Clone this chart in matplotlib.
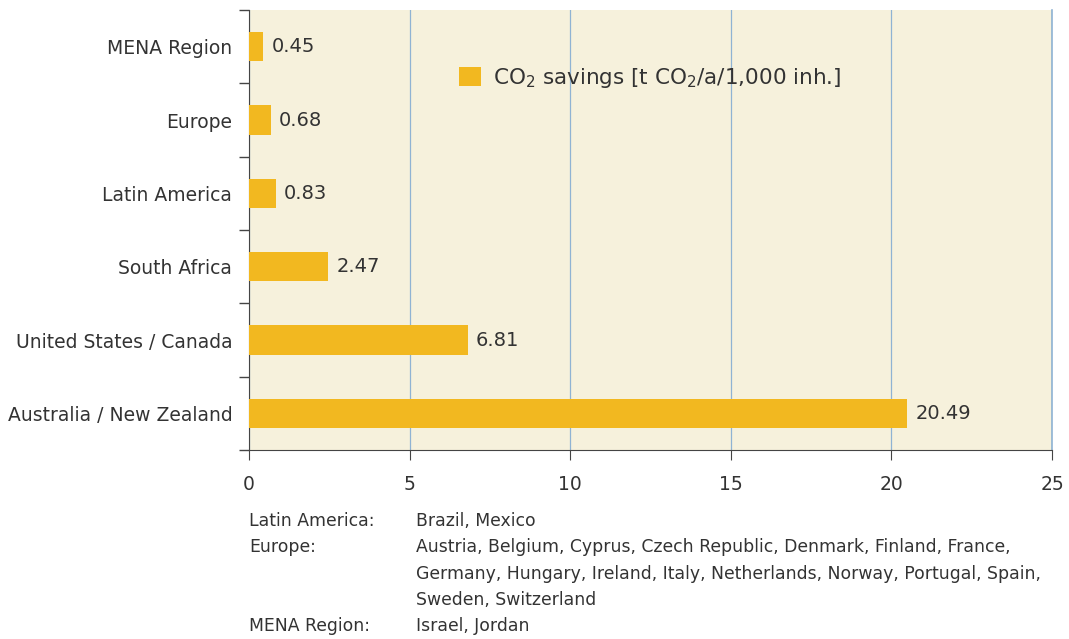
import numpy as np
import matplotlib
matplotlib.use("Agg")
import matplotlib.pyplot as plt

plt.rcParams['font.family'] = ['DejaVu Sans']
plt.rcParams['mathtext.default'] = 'regular'

# data (bottom to top)
regions = ["Australia / New Zealand", "United States / Canada", "South Africa",
           "Latin America", "Europe", "MENA Region"]
savings = [20.49, 6.81, 2.47, 0.83, 0.68, 0.45]
series_label = "CO$_2$ savings [t CO$_2$/a/1,000 inh.]"

note_keys = ["Latin America:", "Europe:", "", "", "MENA Region:"]
note_vals = ["Brazil, Mexico",
             "Austria, Belgium, Cyprus, Czech Republic, Denmark, Finland, France,",
             "Germany, Hungary, Ireland, Italy, Netherlands, Norway, Portugal, Spain,",
             "Sweden, Switzerland",
             "Israel, Jordan"]

bar_col = "#f2b820"
bg_col = "#f6f1dc"
grid_col = "#8fb3d3"
txt_col = "#333333"

fig = plt.figure(figsize=(10.69, 6.39), dpi=100)
ax = fig.add_axes([249 / 1069, 1 - 450 / 639, (1052 - 249) / 1069, 440 / 639])
ax.set_facecolor(bg_col)

y = np.arange(len(regions))
ax.barh(y, savings, height=0.4, color=bar_col, label=series_label, zorder=3)
for yi, v in zip(y, savings):
    ax.text(v + 0.25, yi, f"{v:.2f}", va="center", ha="left", fontsize=14, color=txt_col)

ax.set_xlim(0, 25)
ax.set_ylim(-0.5, len(regions) - 0.5)
ax.set_xticks([0, 5, 10, 15, 20, 25])
ax.set_yticks(y)
ax.set_yticklabels(regions)
ax.set_yticks(np.arange(-0.5, len(regions), 1), minor=True)
ax.tick_params(axis="y", which="major", length=0, pad=12, labelsize=13.5, labelcolor=txt_col)
ax.tick_params(axis="y", which="minor", length=7, color="#444444", width=1)
ax.tick_params(axis="x", length=7, color="#444444", pad=11, labelsize=13.5, labelcolor=txt_col)

ax.grid(axis="x", color=grid_col, lw=0.9, zorder=1)
ax.axvline(25, color=grid_col, lw=1.2, clip_on=False, zorder=1)
for s in ["top", "right"]:
    ax.spines[s].set_visible(False)
ax.spines["left"].set_color("#444444")
ax.spines["bottom"].set_color("#444444")

ax.legend(loc="center left", bbox_to_anchor=(0.2615, 0.845), frameon=False,
          fontsize=15.5, handlelength=1.0, handleheight=1.0, handletextpad=0.6,
          borderpad=0, borderaxespad=0, labelcolor=txt_col)

# footnote
for i, (k, v) in enumerate(zip(note_keys, note_vals)):
    yy = 1 - (521 + i * 26.3) / 639
    fig.text(249 / 1069, yy, k, fontsize=12.4, color=txt_col, va="center")
    fig.text(416 / 1069, yy, v, fontsize=12.4, color=txt_col, va="center")

fig.savefig("out.png", dpi=100)
